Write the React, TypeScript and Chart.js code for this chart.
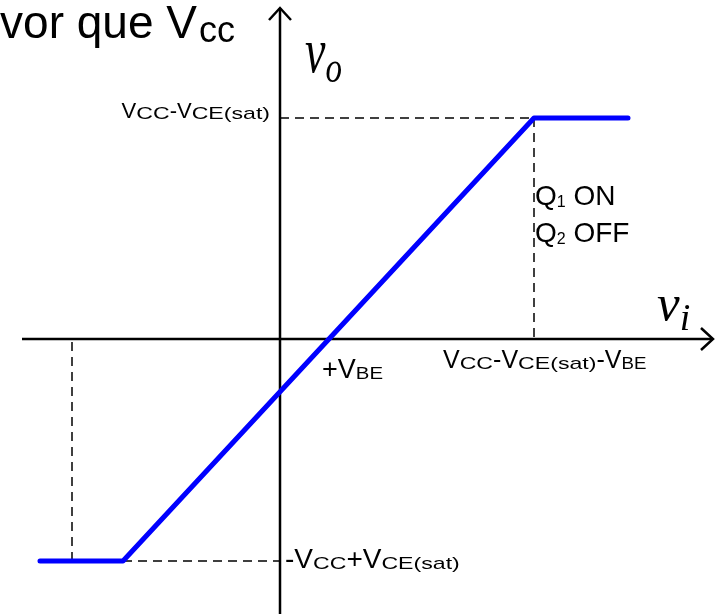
import React, { useEffect, useRef } from "react";
import { Chart, registerables } from "chart.js";

Chart.register(...registerables);

// ---- data (arbitrary voltage units) ----
const viPoints = [-24, -15.7, 25.4, 34.8];
const voPoints = [-22.2, -22.2, 22.1, 22.1];
const satHigh = 22.1; // Vcc - Vce(sat)
const satLow = -22.2; // -Vcc + Vce(sat)
const viHigh = 25.4; // Vcc - Vce(sat) - Vbe
const viLow = -15.7;
const viLeftMark = -20.8;
const vbe = 4.9;
const xRange = [-28, 44.4];
const yRange = [-27.5, 33.9];
const xAxisEnds = [-25.8, 43.3];
const yAxisEnds = [-27.5, 33.1];
const arrowSize = [1.1, 1.2];

type Seg = { t: string; font: string; sx?: number; dy?: number };

const SANS = '"Liberation Sans", Arial, sans-serif';
const SERIF = '"Liberation Serif", "Times New Roman", serif';

const main = (t: string, size: number): Seg => ({ t, font: `${size}px ${SANS}` });
const sub = (t: string, size = 17, sx = 1.36): Seg => ({ t, font: `${size}px ${SANS}`, sx, dy: 1 });

function drawRich(ctx: CanvasRenderingContext2D, x: number, y: number, segs: Seg[], align: "left" | "right" = "left") {
  let total = 0;
  const widths = segs.map((s) => {
    ctx.font = s.font;
    const w = ctx.measureText(s.t).width * (s.sx ?? 1);
    total += w;
    return w;
  });
  let cx = align === "right" ? x - total : x;
  segs.forEach((s, i) => {
    ctx.save();
    ctx.font = s.font;
    ctx.textAlign = "left";
    ctx.textBaseline = "alphabetic";
    ctx.fillStyle = "#000";
    ctx.translate(cx, y + (s.dy ?? 0));
    ctx.scale(s.sx ?? 1, 1);
    ctx.fillText(s.t, 0, 0);
    ctx.restore();
    cx += widths[i];
  });
}

const labelPlugin = {
  id: "labels",
  afterDraw(chart: any) {
    const ctx: CanvasRenderingContext2D = chart.ctx;
    const xs = chart.scales.x;
    const ys = chart.scales.y;
    const px = (v: number) => xs.getPixelForValue(v);
    const py = (v: number) => ys.getPixelForValue(v);

    // top-left cropped text
    drawRich(ctx, 197, 38, [{ t: "vor que V", font: `46px ${SANS}` }], "right");
    drawRich(ctx, 199, 42, [{ t: "cc", font: `36px ${SANS}` }]);

    // Vcc - Vce(sat)
    drawRich(ctx, px(0) - 10, py(satHigh) + 0, [main("V", 22), sub("CC"), main("-", 22), main("V", 22), sub("CE(sat)")], "right");

    // Q1 ON / Q2 OFF
    drawRich(ctx, px(viHigh) + 1, py(satHigh) + 87, [main("Q", 28), { t: "1", font: `16px ${SANS}`, dy: 2 }, main(" ON", 28)]);
    drawRich(ctx, px(viHigh) + 1, py(satHigh) + 124, [main("Q", 28), { t: "2", font: `16px ${SANS}`, dy: 2 }, main(" OFF", 28)]);

    // Vcc - Vce(sat) - Vbe
    drawRich(ctx, px(viHigh) - 91, py(0) + 29, [main("V", 25), sub("CC"), main("-", 25), main("V", 25), sub("CE(sat)"), main("-", 25), main("V", 25), sub("BE", 17, 1.1)]);

    // +Vbe
    drawRich(ctx, px(vbe) - 7, py(0) + 39, [main("+V", 27), sub("BE", 17, 1.2)]);

    // -Vcc + Vce(sat)
    drawRich(ctx, px(0) + 5, py(satLow) + 7, [main("-V", 28), sub("CC"), main("+V", 28), sub("CE(sat)")]);

    // axis names
    drawRich(ctx, px(0) + 25, py(yAxisEnds[1]) + 64, [
      { t: "v", font: `italic 64px ${SERIF}`, sx: 0.72 },
      { t: "o", font: `italic 44px ${SERIF}`, sx: 0.75, dy: 10 },
    ]);
    drawRich(ctx, px(xAxisEnds[1]) - 56, py(0) - 19, [
      { t: "v", font: `italic 51px ${SERIF}` },
      { t: "i", font: `italic 38px ${SERIF}`, dy: 10 },
    ]);
  },
};

export default function App() {
  const ref = useRef<HTMLCanvasElement | null>(null);

  useEffect(() => {
    if (!ref.current) return;
    const line = (pts: { x: number; y: number }[], color: string, width: number, dash: number[], order: number, round = false) => ({
      data: pts,
      showLine: true,
      borderColor: color,
      backgroundColor: color,
      borderWidth: width,
      borderDash: dash,
      borderCapStyle: round ? "round" : "butt",
      borderJoinStyle: round ? "round" : "miter",
      pointRadius: 0,
      fill: false,
      tension: 0,
      order,
    });

    const transfer = viPoints.map((x, i) => ({ x, y: voPoints[i] }));
    const black = "#000000";
    const dash = [9, 6];

    const chart = new Chart(ref.current, {
      type: "scatter",
      data: {
        datasets: [
          line(transfer, "#0000FF", 5, [], 0, true),
          line([{ x: xAxisEnds[0], y: 0 }, { x: xAxisEnds[1], y: 0 }], black, 2.5, [], 1),
          line([{ x: 0, y: yAxisEnds[0] }, { x: 0, y: yAxisEnds[1] }], black, 2.5, [], 1),
          line(
            [
              { x: -arrowSize[0], y: yAxisEnds[1] - arrowSize[1] },
              { x: 0, y: yAxisEnds[1] },
              { x: arrowSize[0], y: yAxisEnds[1] - arrowSize[1] },
            ],
            black, 2.5, [], 1
          ),
          line(
            [
              { x: xAxisEnds[1] - arrowSize[1], y: arrowSize[0] },
              { x: xAxisEnds[1], y: 0 },
              { x: xAxisEnds[1] - arrowSize[1], y: -arrowSize[0] },
            ],
            black, 2.5, [], 1
          ),
          line([{ x: 0, y: satHigh }, { x: viHigh + 1.1, y: satHigh }], black, 1.5, dash, 2),
          line([{ x: viHigh, y: satHigh }, { x: viHigh, y: 0 }], black, 1.5, dash, 2),
          line([{ x: viLeftMark, y: -0.3 }, { x: viLeftMark, y: satLow }], black, 1.5, dash, 2),
          line([{ x: viLow, y: satLow }, { x: 0, y: satLow }], black, 1.5, dash, 2),
        ] as any,
      },
      options: {
        animation: false,
        responsive: false,
        maintainAspectRatio: false,
        events: [],
        layout: { padding: 0 },
        plugins: { legend: { display: false }, tooltip: { enabled: false } },
        scales: {
          x: { type: "linear", min: xRange[0], max: xRange[1], display: false },
          y: { type: "linear", min: yRange[0], max: yRange[1], display: false },
        },
      },
      plugins: [labelPlugin],
    });
    return () => chart.destroy();
  }, []);

  return (
    <div style={{ position: "absolute", left: 0, top: 0, width: 724, height: 614, background: "#fff" }}>
      <canvas ref={ref} width={724} height={614} style={{ display: "block", width: 724, height: 614 }} />
    </div>
  );
}
